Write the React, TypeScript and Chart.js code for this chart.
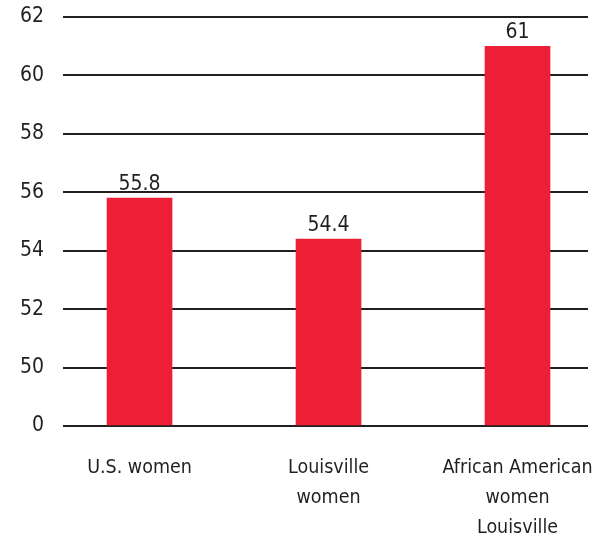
import React, { useEffect, useRef } from "react";
import { Chart, registerables } from "chart.js";

Chart.register(...registerables);

// Bar categories (multi-line labels) and their values
const categories: string[][] = [
  ["U.S. women"],
  ["Louisville", "women"],
  ["African American", "women", "Louisville"],
];
const values: number[] = [55.8, 54.4, 61];

// The value axis is broken: the bottom tick stands in for 0, then 50..62
const axisFloor = 48;
const axisTop = 62;
const tickStep = 2;
const floorLabel = "0";

const FONT = "'Liberation Sans Narrow', 'DejaVu Sans Condensed', 'Roboto Condensed', sans-serif";
const INK = "#231f20";
const BAR = "#ed1f37";
const FONT_SIZE = 21;
const CATEGORY_FONT_SIZE = 19.5;

const valueLabels = {
  id: "valueLabels",
  afterDatasetsDraw(chart: any) {
    const { ctx } = chart;
    const meta = chart.getDatasetMeta(0);
    ctx.save();
    ctx.font = `${FONT_SIZE}px ${FONT}`;
    ctx.fillStyle = INK;
    ctx.textAlign = "center";
    ctx.textBaseline = "bottom";
    meta.data.forEach((bar: any, i: number) => {
      ctx.fillText(String(values[i]), bar.x, bar.y - 3);
    });
    ctx.restore();
  },
};

export default function App() {
  const canvasRef = useRef<HTMLCanvasElement | null>(null);

  useEffect(() => {
    document.body.style.margin = "0";
    const canvas = canvasRef.current;
    if (!canvas) return;
    const chart = new Chart(canvas, {
      type: "bar",
      data: {
        datasets: [
          {
            data: values.map((v, i) => ({ x: i, y: v })),
            backgroundColor: BAR,
            borderWidth: 0,
            barThickness: 65,
            base: axisFloor,
          } as any,
        ],
      },
      plugins: [valueLabels],
      options: {
        animation: false,
        responsive: false,
        maintainAspectRatio: false,
        layout: { padding: { top: 17, right: 7, left: 0, bottom: 0 } },
        plugins: {
          legend: { display: false },
          tooltip: { enabled: false },
        },
        scales: {
          x: {
            type: "linear",
            offset: false,
            min: -0.405,
            max: 2.373,
            grid: { display: false, offset: false },
            border: { display: false },
            afterBuildTicks(scale: any) {
              scale.ticks = categories.map((_, i) => ({ value: i }));
            },
            afterFit(scale: any) {
              scale.height = 113;
              scale.paddingLeft = 0;
              scale.paddingRight = 0;
            },
            ticks: {
              autoSkip: false,
              maxRotation: 0,
              padding: 19,
              color: INK,
              font: { family: FONT, size: CATEGORY_FONT_SIZE, lineHeight: 1.54 },
              callback: (value: any) => categories[Number(value)] ?? "",
            },
          },
          y: {
            min: axisFloor,
            max: axisTop,
            grid: {
              color: INK,
              lineWidth: 2,
              drawTicks: false,
            },
            border: { display: false },
            afterFit(scale: any) {
              scale.width = 63;
              scale.paddingTop = 0;
              scale.paddingBottom = 0;
            },
            ticks: {
              stepSize: tickStep,
              padding: 19,
              color: INK,
              font: { family: FONT, size: FONT_SIZE },
              callback: (value: any) =>
                Number(value) === axisFloor ? floorLabel : String(value),
            },
          },
        },
      },
    });
    return () => chart.destroy();
  }, []);

  return (
    <div style={{ position: "absolute", left: 0, top: 0, width: 595, height: 539, background: "#fff" }}>
      <canvas ref={canvasRef} width={595} height={539} />
    </div>
  );
}
